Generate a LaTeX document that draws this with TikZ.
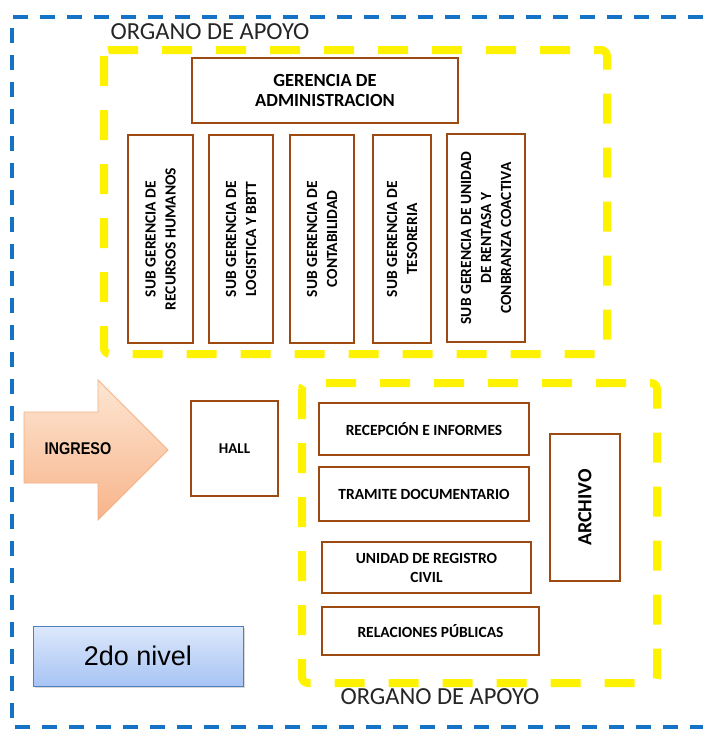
\documentclass[tikz,border=0pt]{standalone}
\usepackage{fontspec}
\setmainfont{Carlito}
\newfontfamily\arialfont{Liberation Sans}
\definecolor{officebrown}{HTML}{9C4A12}
\definecolor{zoneblue}{HTML}{1473C4}
\definecolor{zoneyellow}{HTML}{FFF200}
\definecolor{ingresotop}{HTML}{FDE6D3}
\definecolor{ingresobot}{HTML}{F8B48A}
\definecolor{ingresoline}{HTML}{F4B183}
\definecolor{niveltop}{HTML}{DDE8FB}
\definecolor{nivelbot}{HTML}{A7C4F4}
\definecolor{nivelline}{HTML}{4F7FBE}
\usetikzlibrary{
  shadows,
}

\begin{document}
\begin{tikzpicture}[
  x=1pt, y=-1pt,
  office/.style={
    draw=officebrown, fill=white, line width=2.5pt, inner sep=2pt,
    align=center, font=\bfseries\fontsize{15.5}{19}\selectfont,
  },
  subgerencia/.style={
    office, rotate=90, minimum width=208pt, font=\bfseries\fontsize{15.5}{20}\selectfont,
  },
  bluezone/.style={
    draw=zoneblue, line width=4pt, dash pattern=on 15pt off 12pt,
  },
  apoyozone/.style={
    draw=zoneyellow, line width=8pt, dash pattern=on 30pt off 24pt, rounded corners=6pt,
  },
  zonelabel/.style={
    font=\fontsize{24.5}{28}\selectfont, text=black!85,
  },
]
  \useasboundingbox (0,0) rectangle (703,729);

  % --- outer level frame ---
  \draw[bluezone] (703,17) -- (12,17) -- (12,727) -- (703,727);

  % --- organo de apoyo (upper) ---
  \draw[apoyozone] (104,50) rectangle (607,354);
  \node[zonelabel] (apoyo-top) at (210,32) {ORGANO DE APOYO};

  \node[office, minimum width=266pt, minimum height=65pt, font=\bfseries\fontsize{18.5}{20}\selectfont]
    (g-admin) at (325,90.5) {GERENCIA DE\\ADMINISTRACION};

  \node[subgerencia, minimum height=65pt] (sg-rrhh)   at (160.5,239) {SUB GERENCIA DE\\RECURSOS HUMANOS};
  \node[subgerencia, minimum height=64pt] (sg-log)    at (241,239)   {SUB GERENCIA DE\\LOGISTICA Y BBTT};
  \node[subgerencia, minimum height=64pt] (sg-cont)   at (322,239)   {SUB GERENCIA DE\\CONTABILIDAD};
  \node[subgerencia, minimum height=58pt] (sg-tes)    at (402,239)   {SUB GERENCIA DE\\TESORERIA};
  \node[subgerencia, minimum height=78pt] (sg-rentas) at (486,238)   {SUB GERENCIA DE UNIDAD\\DE RENTASA Y\\CONBRANZA COACTIVA};

  % --- ingreso and hall ---
  \draw[ingresoline, line width=0.8pt, top color=ingresotop, bottom color=ingresobot]
    (24,412) -- (98,412) -- (98,380) -- (168,450) -- (98,520) -- (98,483) -- (24,483) -- cycle;
  \node[font=\arialfont\bfseries\fontsize{17}{20}\selectfont, xscale=0.85] (ingreso) at (78,449) {INGRESO};

  \node[office, minimum width=87pt, minimum height=95pt, font=\bfseries\fontsize{15}{18}\selectfont]
    (hall) at (234.5,448.5) {HALL};

  % --- organo de apoyo (lower) ---
  \draw[apoyozone] (302,383) rectangle (657,683);
  \node[zonelabel] (apoyo-bottom) at (440,697) {ORGANO DE APOYO};

  \node[office, minimum width=210pt, minimum height=52pt] (recepcion) at (424,429)   {RECEPCIÓN E INFORMES};
  \node[office, minimum width=210pt, minimum height=54pt] (tramite)   at (424,494)   {TRAMITE DOCUMENTARIO};
  \node[office, minimum width=209pt, minimum height=51pt] (registro)  at (426.5,567.5) {UNIDAD DE REGISTRO\\CIVIL};
  \node[office, minimum width=217pt, minimum height=48pt] (relaciones) at (430.5,631) {RELACIONES PÚBLICAS};
  \node[office, rotate=90, minimum width=147pt, minimum height=70pt, font=\bfseries\fontsize{20}{22}\selectfont]
    (archivo) at (585,507.5) {ARCHIVO};

  % Legend
  \node[draw=nivelline, line width=0.8pt, top color=niveltop, bottom color=nivelbot,
    drop shadow={shadow xshift=1.5pt, shadow yshift=-1.5pt, opacity=0.3},
    minimum width=210pt, minimum height=60pt, font=\arialfont\fontsize{27}{30}\selectfont]
    (nivel) at (138,656) {2do nivel};
\end{tikzpicture}
\end{document}
